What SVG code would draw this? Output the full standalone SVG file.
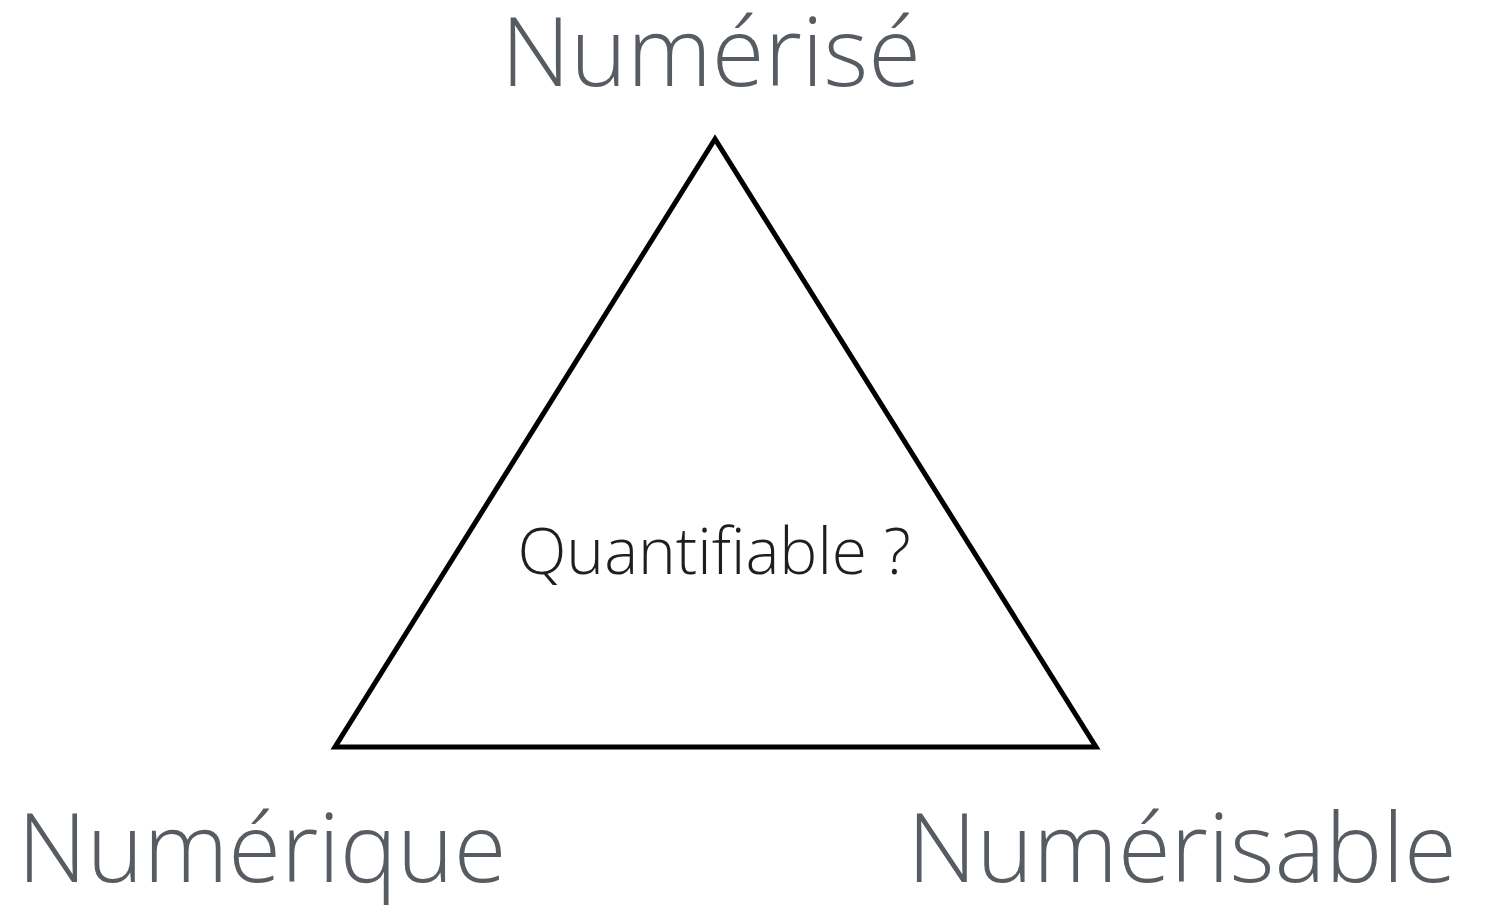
<svg xmlns="http://www.w3.org/2000/svg" width="1493" height="907" viewBox="0 0 1493 907">
<style>
.lbl{font-family:"Open Sans","Liberation Sans",sans-serif;font-weight:300;fill:#575c62;font-size:96px}
.mid{font-family:"Open Sans","Liberation Sans",sans-serif;font-weight:300;fill:#1e1e1e;font-size:64px}
</style>
<rect width="1493" height="907" fill="#ffffff"/>
<g id="connectors">
<polygon points="715,139 335,747 1096,747" fill="none" stroke="#000" stroke-width="5" stroke-linejoin="miter"/>
</g>
<g id="node-top"><text class="lbl" x="711" y="86" text-anchor="middle">Numérisé</text></g>
<g id="node-left"><text class="lbl" x="262" y="882" text-anchor="middle">Numérique</text></g>
<g id="node-right"><text class="lbl" x="1182" y="882" text-anchor="middle">Numérisable</text></g>
<g id="node-center"><text class="mid" x="714" y="574" text-anchor="middle">Quantifiable ?</text></g>
</svg>
